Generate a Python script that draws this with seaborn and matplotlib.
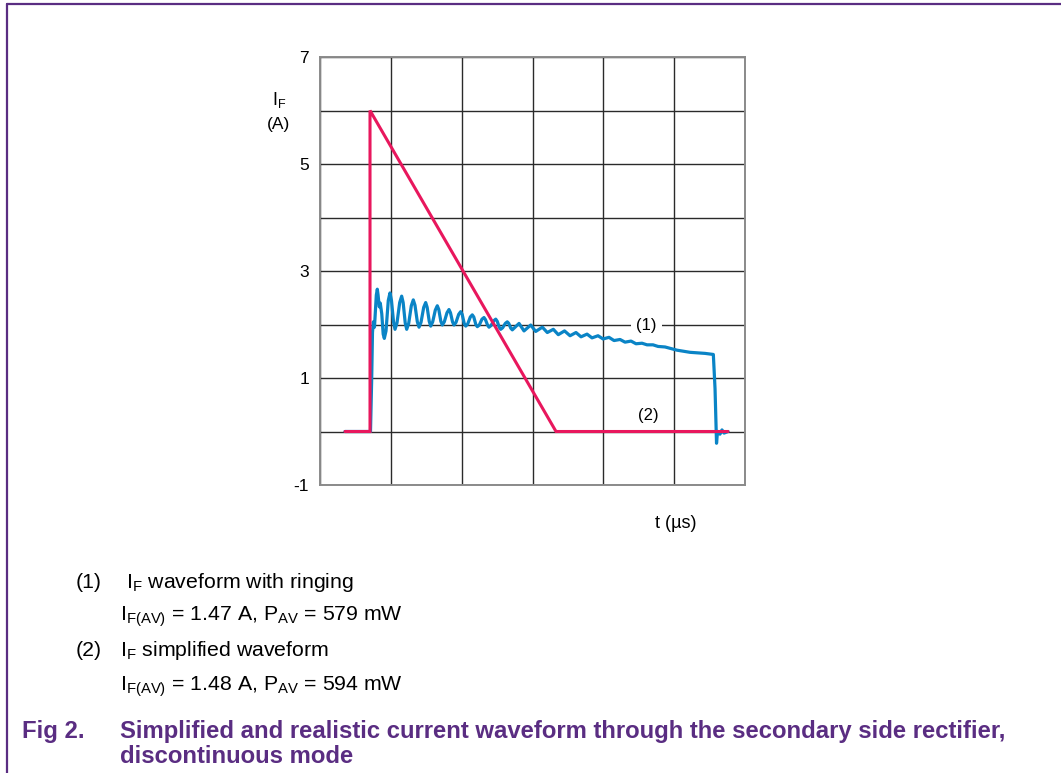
import numpy as np
import pandas as pd
import matplotlib
matplotlib.use("Agg")
import matplotlib.pyplot as plt
import seaborn as sns

# time axis in grid divisions (0..6), current in A
# (2) simplified waveform
simple_t = [0.353, 0.706, 0.706, 3.332, 5.760]
simple_i = [0.0, 0.0, 6.0, 0.0, 0.0]

# (1) waveform with ringing
ring_t = [0.353, 0.713, 0.730, 0.741, 0.753, 0.769, 0.795, 0.809, 0.820, 0.837,
          0.851, 0.872, 0.892, 0.908, 0.932, 0.964, 0.988, 1.009, 1.038, 1.059,
          1.087, 1.125, 1.153, 1.174, 1.203, 1.224, 1.252, 1.289, 1.317, 1.341,
          1.374, 1.398, 1.426, 1.464, 1.492, 1.513, 1.542, 1.563, 1.591, 1.628,
          1.656, 1.677, 1.706, 1.727, 1.755, 1.793, 1.821, 1.842, 1.871, 1.892,
          1.920, 1.958, 1.986, 2.007, 2.036, 2.057, 2.085, 2.122, 2.150, 2.171,
          2.200, 2.221, 2.249, 2.287, 2.315, 2.336, 2.365, 2.386, 2.414, 2.453,
          2.481, 2.502, 2.530, 2.551, 2.579, 2.616, 2.644, 2.665, 2.694, 2.715,
          2.810, 2.880, 2.975, 3.045, 3.139, 3.209, 3.294, 3.364,
          3.452, 3.530, 3.614, 3.685, 3.770, 3.840, 3.925, 3.996, 4.080, 4.151,
          4.236, 4.306, 4.391, 4.461, 4.546, 4.617, 4.701, 4.772, 4.871, 5.040,
          5.224, 5.436, 5.553, 5.577, 5.598, 5.612, 5.647, 5.675, 5.704, 5.760]
ring_i = [0.0, 0.0, 1.0, 1.85, 2.05, 1.95, 2.55, 2.66, 2.55, 2.33,
          2.40, 2.20, 1.82, 1.74, 1.88, 2.45, 2.59, 2.45, 2.05, 1.91,
          2.03, 2.41, 2.53, 2.41, 2.03, 1.91, 2.02, 2.35, 2.46, 2.36,
          2.05, 1.95, 2.04, 2.32, 2.41, 2.32, 2.06, 1.97, 2.05, 2.27,
          2.35, 2.28, 2.06, 1.99, 2.05, 2.22, 2.28, 2.22, 2.05, 1.99,
          2.04, 2.19, 2.24, 2.19, 2.02, 1.97, 2.01, 2.14, 2.18, 2.14,
          2.00, 1.96, 1.99, 2.10, 2.13, 2.09, 1.99, 1.95, 1.98, 2.07,
          2.10, 2.06, 1.95, 1.91, 1.94, 2.02, 2.05, 2.02, 1.93, 1.90,
          2.02, 1.88, 1.99, 1.87, 1.95, 1.85, 1.91, 1.81,
          1.88, 1.79, 1.85, 1.77, 1.82, 1.75, 1.79, 1.73, 1.76, 1.70,
          1.72, 1.67, 1.69, 1.64, 1.65, 1.62, 1.62, 1.59, 1.58, 1.52,
          1.48, 1.46, 1.44, 0.80, -0.22, 0.0, -0.05, 0.03, -0.03, 0.0]

y_ticks = [-1, 1, 3, 5, 7]

BLUE = "#0a84c6"
RED = "#e8175d"
PURPLE = "#5a2d82"

sns.set_style("white")
plt.rcParams["font.family"] = ["Liberation Sans", "DejaVu Sans"]
plt.rcParams["mathtext.fontset"] = "custom"
plt.rcParams["mathtext.rm"] = "Liberation Sans"
plt.rcParams["text.color"] = "black"
plt.rcParams["ytick.color"] = "black"

fig = plt.figure(figsize=(10.61, 7.73), dpi=100)
ax = fig.add_axes([320 / 1061, 1 - 485 / 773, 425 / 1061, 428 / 773])

ring = pd.DataFrame({"t": ring_t, "i": ring_i})
simple = pd.DataFrame({"t": simple_t, "i": simple_i})
sns.lineplot(data=ring, x="t", y="i", ax=ax, color=BLUE, lw=2.3,
             estimator=None, sort=False, zorder=3,
             solid_joinstyle="round", solid_capstyle="round")
sns.lineplot(data=simple, x="t", y="i", ax=ax, color=RED, lw=2.2,
             estimator=None, sort=False, zorder=4, solid_joinstyle="miter")

ax.set_xlim(0, 6)
ax.set_ylim(-1, 7)
ax.set_xticks(range(0, 7))
ax.set_xticklabels([])
ax.set_yticks(range(-1, 8))
ax.set_yticklabels([str(v) if v in y_ticks else "" for v in range(-1, 8)])
ax.tick_params(axis="x", length=0)
ax.tick_params(axis="y", length=0, labelsize=12.5, pad=8, labelcolor="black")
ax.grid(True, color="#2a2a2a", lw=1.0)
for s in ax.spines.values():
    s.set_color("#8a8a8a")
    s.set_linewidth(1.4)
ax.set_xlabel("")
ax.set_ylabel("")

fig.text(279 / 1061, 1 - 100 / 773, "I$_\\mathregular{F}$", fontsize=13,
         ha="center", va="center")
fig.text(278 / 1061, 1 - 124 / 773, "(A)", fontsize=12.5, ha="center", va="center")
fig.text(676 / 1061, 1 - 523 / 773, "t (µs)", fontsize=13, ha="center", va="center")

ax.text(4.61, 1.98, "(1)", fontsize=12, ha="center", va="center", zorder=5,
        bbox=dict(facecolor="white", edgecolor="none", pad=3.5))
ax.text(4.63, 0.3, "(2)", fontsize=12, ha="center", va="center", zorder=5)

# notes under the chart
fs = 15.3
fig.text(76 / 1061, 1 - 588 / 773, "(1)", fontsize=fs, va="baseline")
fig.text(126 / 1061, 1 - 588 / 773, "I$_\\mathregular{F}$ waveform with ringing",
         fontsize=fs, va="baseline")
fig.text(120 / 1061, 1 - 620 / 773,
         "I$_\\mathregular{F(AV)}$ = 1.47 A, P$_\\mathregular{AV}$ = 579 mW",
         fontsize=fs, va="baseline")
fig.text(76 / 1061, 1 - 656 / 773, "(2)", fontsize=fs, va="baseline")
fig.text(120 / 1061, 1 - 656 / 773, "I$_\\mathregular{F}$ simplified waveform",
         fontsize=fs, va="baseline")
fig.text(120 / 1061, 1 - 690 / 773,
         "I$_\\mathregular{F(AV)}$ = 1.48 A, P$_\\mathregular{AV}$ = 594 mW",
         fontsize=fs, va="baseline")

ft = 17.2
fig.text(22 / 1061, 1 - 738 / 773, "Fig 2.", fontsize=ft, fontweight="bold",
         color=PURPLE, va="baseline")
fig.text(120 / 1061, 1 - 738 / 773,
         "Simplified and realistic current waveform through the secondary side rectifier,",
         fontsize=ft, fontweight="bold", color=PURPLE, va="baseline")
fig.text(120 / 1061, 1 - 763 / 773, "discontinuous mode", fontsize=ft,
         fontweight="bold", color=PURPLE, va="baseline")

# purple frame, top and left
fig.add_artist(plt.Line2D([7 / 1061, 1], [1 - 4 / 773, 1 - 4 / 773],
                          color=PURPLE, lw=1.6))
fig.add_artist(plt.Line2D([7 / 1061, 7 / 1061], [0, 1 - 4 / 773],
                          color=PURPLE, lw=1.6))

fig.savefig("out.png", dpi=100)
